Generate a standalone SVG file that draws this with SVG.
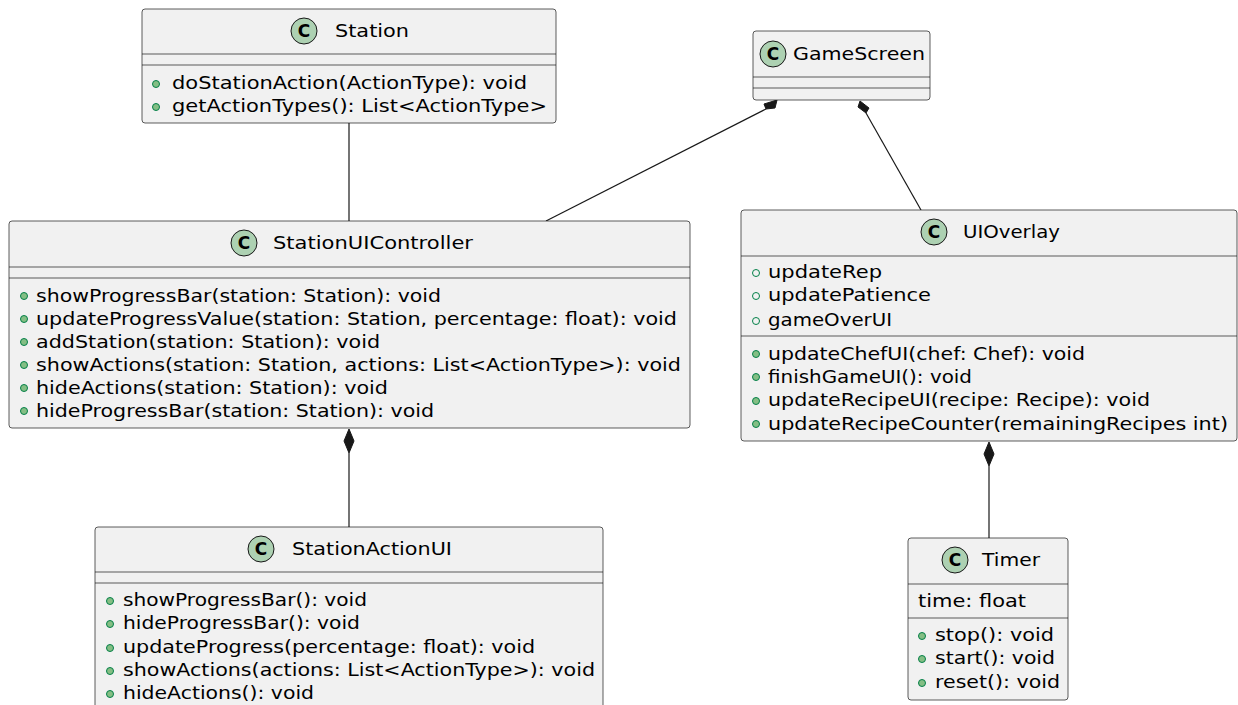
<svg xmlns="http://www.w3.org/2000/svg" width="1238" height="705" viewBox="0 0 1238 705">
<defs>
<style>
.box{fill:#F1F1F1;stroke:#181818;stroke-width:0.7}
.sep{stroke:#181818;stroke-width:0.7}
.cls{fill:#ADD1B2;stroke:#181818;stroke-width:1}
.cl{font-family:"DejaVu Sans",sans-serif;font-size:17px;font-weight:bold;fill:#000}
.t{font-family:"DejaVu Sans",sans-serif;font-size:18px;fill:#000}
.m{font-family:"DejaVu Sans",sans-serif;font-size:17.5px;fill:#000}
.pub{fill:#84BE84;stroke:#038048;stroke-width:1}
.fld{fill:none;stroke:#038048;stroke-width:1}
.edge{stroke:#181818;stroke-width:1.2;fill:none}
.dia{fill:#181818;stroke:#181818;stroke-width:1}
</style>
</defs>
<rect width="1238" height="705" fill="#FFFFFF"/>

<g id="edges">
<line class="edge" x1="349" y1="123" x2="349" y2="221"/>
<line class="edge" x1="766" y1="109" x2="546" y2="221"/>
<polygon class="dia" points="777,100 775,108 766,109 764,104"/>
<line class="edge" x1="866" y1="113" x2="921" y2="210"/>
<polygon class="dia" points="860,101 869,108 866,113 858,107"/>
<line class="edge" x1="349" y1="453" x2="349" y2="527"/>
<polygon class="dia" points="349,429 354,441 349,453 344,441"/>
<line class="edge" x1="989" y1="466" x2="989" y2="538"/>
<polygon class="dia" points="989,442 994,454 989,466 984,454"/>
</g>

<g id="Station">
<rect class="box" x="142" y="9" width="414" height="114" rx="3"/>
<circle class="cls" cx="304" cy="31" r="13"/>
<text class="cl" x="304" y="37" text-anchor="middle">C</text>
<text class="t" x="335" y="37" textLength="74" lengthAdjust="spacingAndGlyphs">Station</text>
<line class="sep" x1="142" y1="54" x2="556" y2="54"/>
<line class="sep" x1="142" y1="65" x2="556" y2="65"/>
<circle class="pub" cx="156" cy="84" r="3.5"/>
<text class="m" x="172" y="89" textLength="355" lengthAdjust="spacingAndGlyphs">doStationAction(ActionType): void</text>
<circle class="pub" cx="156" cy="107" r="3.5"/>
<text class="m" x="172" y="112" textLength="375" lengthAdjust="spacingAndGlyphs">getActionTypes(): List&lt;ActionType&gt;</text>
</g>

<g id="GameScreen">
<rect class="box" x="753" y="31" width="177" height="69" rx="3"/>
<circle class="cls" cx="773" cy="54" r="13"/>
<text class="cl" x="773" y="60" text-anchor="middle">C</text>
<text class="t" x="793" y="60" textLength="132" lengthAdjust="spacingAndGlyphs">GameScreen</text>
<line class="sep" x1="753" y1="77" x2="930" y2="77"/>
<line class="sep" x1="753" y1="88" x2="930" y2="88"/>
</g>

<g id="StationUIController">
<rect class="box" x="9" y="221" width="681" height="207" rx="3"/>
<circle class="cls" cx="244" cy="243" r="13"/>
<text class="cl" x="244" y="249" text-anchor="middle">C</text>
<text class="t" x="273" y="249" textLength="200" lengthAdjust="spacingAndGlyphs">StationUIController</text>
<line class="sep" x1="9" y1="267" x2="690" y2="267"/>
<line class="sep" x1="9" y1="278" x2="690" y2="278"/>
<circle class="pub" cx="24" cy="296" r="3.5"/>
<text class="m" x="36" y="302" textLength="405" lengthAdjust="spacingAndGlyphs">showProgressBar(station: Station): void</text>
<circle class="pub" cx="24" cy="319" r="3.5"/>
<text class="m" x="36" y="325" textLength="641" lengthAdjust="spacingAndGlyphs">updateProgressValue(station: Station, percentage: float): void</text>
<circle class="pub" cx="24" cy="342" r="3.5"/>
<text class="m" x="36" y="348" textLength="344" lengthAdjust="spacingAndGlyphs">addStation(station: Station): void</text>
<circle class="pub" cx="24" cy="365" r="3.5"/>
<text class="m" x="36" y="371" textLength="645" lengthAdjust="spacingAndGlyphs">showActions(station: Station, actions: List&lt;ActionType&gt;): void</text>
<circle class="pub" cx="24" cy="388" r="3.5"/>
<text class="m" x="36" y="394" textLength="352" lengthAdjust="spacingAndGlyphs">hideActions(station: Station): void</text>
<circle class="pub" cx="24" cy="411" r="3.5"/>
<text class="m" x="36" y="417" textLength="398" lengthAdjust="spacingAndGlyphs">hideProgressBar(station: Station): void</text>
</g>

<g id="UIOverlay">
<rect class="box" x="741" y="210" width="496" height="231" rx="3"/>
<circle class="cls" cx="934" cy="232" r="13"/>
<text class="cl" x="934" y="238" text-anchor="middle">C</text>
<text class="t" x="963" y="238" textLength="97" lengthAdjust="spacingAndGlyphs">UIOverlay</text>
<line class="sep" x1="741" y1="256" x2="1237" y2="256"/>
<circle class="fld" cx="756" cy="273" r="3.5"/>
<text class="m" x="768" y="278" textLength="114" lengthAdjust="spacingAndGlyphs">updateRep</text>
<circle class="fld" cx="756" cy="296" r="3.5"/>
<text class="m" x="768" y="301" textLength="163" lengthAdjust="spacingAndGlyphs">updatePatience</text>
<circle class="fld" cx="756" cy="321" r="3.5"/>
<text class="m" x="768" y="326" textLength="124" lengthAdjust="spacingAndGlyphs">gameOverUI</text>
<line class="sep" x1="741" y1="336" x2="1237" y2="336"/>
<circle class="pub" cx="756" cy="354" r="3.5"/>
<text class="m" x="768" y="360" textLength="317" lengthAdjust="spacingAndGlyphs">updateChefUI(chef: Chef): void</text>
<circle class="pub" cx="756" cy="377" r="3.5"/>
<text class="m" x="768" y="383" textLength="204" lengthAdjust="spacingAndGlyphs">finishGameUI(): void</text>
<circle class="pub" cx="756" cy="401" r="3.5"/>
<text class="m" x="768" y="406" textLength="382" lengthAdjust="spacingAndGlyphs">updateRecipeUI(recipe: Recipe): void</text>
<circle class="pub" cx="756" cy="424" r="3.5"/>
<text class="m" x="768" y="430" textLength="460" lengthAdjust="spacingAndGlyphs">updateRecipeCounter(remainingRecipes int)</text>
</g>

<g id="StationActionUI">
<rect class="box" x="95" y="527" width="508" height="190" rx="3"/>
<circle class="cls" cx="261" cy="549" r="13"/>
<text class="cl" x="261" y="555" text-anchor="middle">C</text>
<text class="t" x="292" y="555" textLength="160" lengthAdjust="spacingAndGlyphs">StationActionUI</text>
<line class="sep" x1="95" y1="572" x2="603" y2="572"/>
<line class="sep" x1="95" y1="583" x2="603" y2="583"/>
<circle class="pub" cx="110" cy="601" r="3.5"/>
<text class="m" x="123" y="606" textLength="244" lengthAdjust="spacingAndGlyphs">showProgressBar(): void</text>
<circle class="pub" cx="110" cy="624" r="3.5"/>
<text class="m" x="123" y="629" textLength="237" lengthAdjust="spacingAndGlyphs">hideProgressBar(): void</text>
<circle class="pub" cx="110" cy="648" r="3.5"/>
<text class="m" x="123" y="653" textLength="412" lengthAdjust="spacingAndGlyphs">updateProgress(percentage: float): void</text>
<circle class="pub" cx="110" cy="671" r="3.5"/>
<text class="m" x="123" y="676" textLength="472" lengthAdjust="spacingAndGlyphs">showActions(actions: List&lt;ActionType&gt;): void</text>
<circle class="pub" cx="110" cy="694" r="3.5"/>
<text class="m" x="123" y="699" textLength="191" lengthAdjust="spacingAndGlyphs">hideActions(): void</text>
</g>

<g id="Timer">
<rect class="box" x="908" y="538" width="160" height="162" rx="3"/>
<circle class="cls" cx="955" cy="560" r="13"/>
<text class="cl" x="955" y="566" text-anchor="middle">C</text>
<text class="t" x="982" y="566" textLength="58" lengthAdjust="spacingAndGlyphs">Timer</text>
<line class="sep" x1="908" y1="584" x2="1068" y2="584"/>
<text class="m" x="918" y="607" textLength="108" lengthAdjust="spacingAndGlyphs">time: float</text>
<line class="sep" x1="908" y1="618" x2="1068" y2="618"/>
<circle class="pub" cx="922" cy="636" r="3.5"/>
<text class="m" x="935" y="641" textLength="119" lengthAdjust="spacingAndGlyphs">stop(): void</text>
<circle class="pub" cx="922" cy="659" r="3.5"/>
<text class="m" x="935" y="664" textLength="120" lengthAdjust="spacingAndGlyphs">start(): void</text>
<circle class="pub" cx="922" cy="683" r="3.5"/>
<text class="m" x="935" y="688" textLength="125" lengthAdjust="spacingAndGlyphs">reset(): void</text>
</g>
</svg>
